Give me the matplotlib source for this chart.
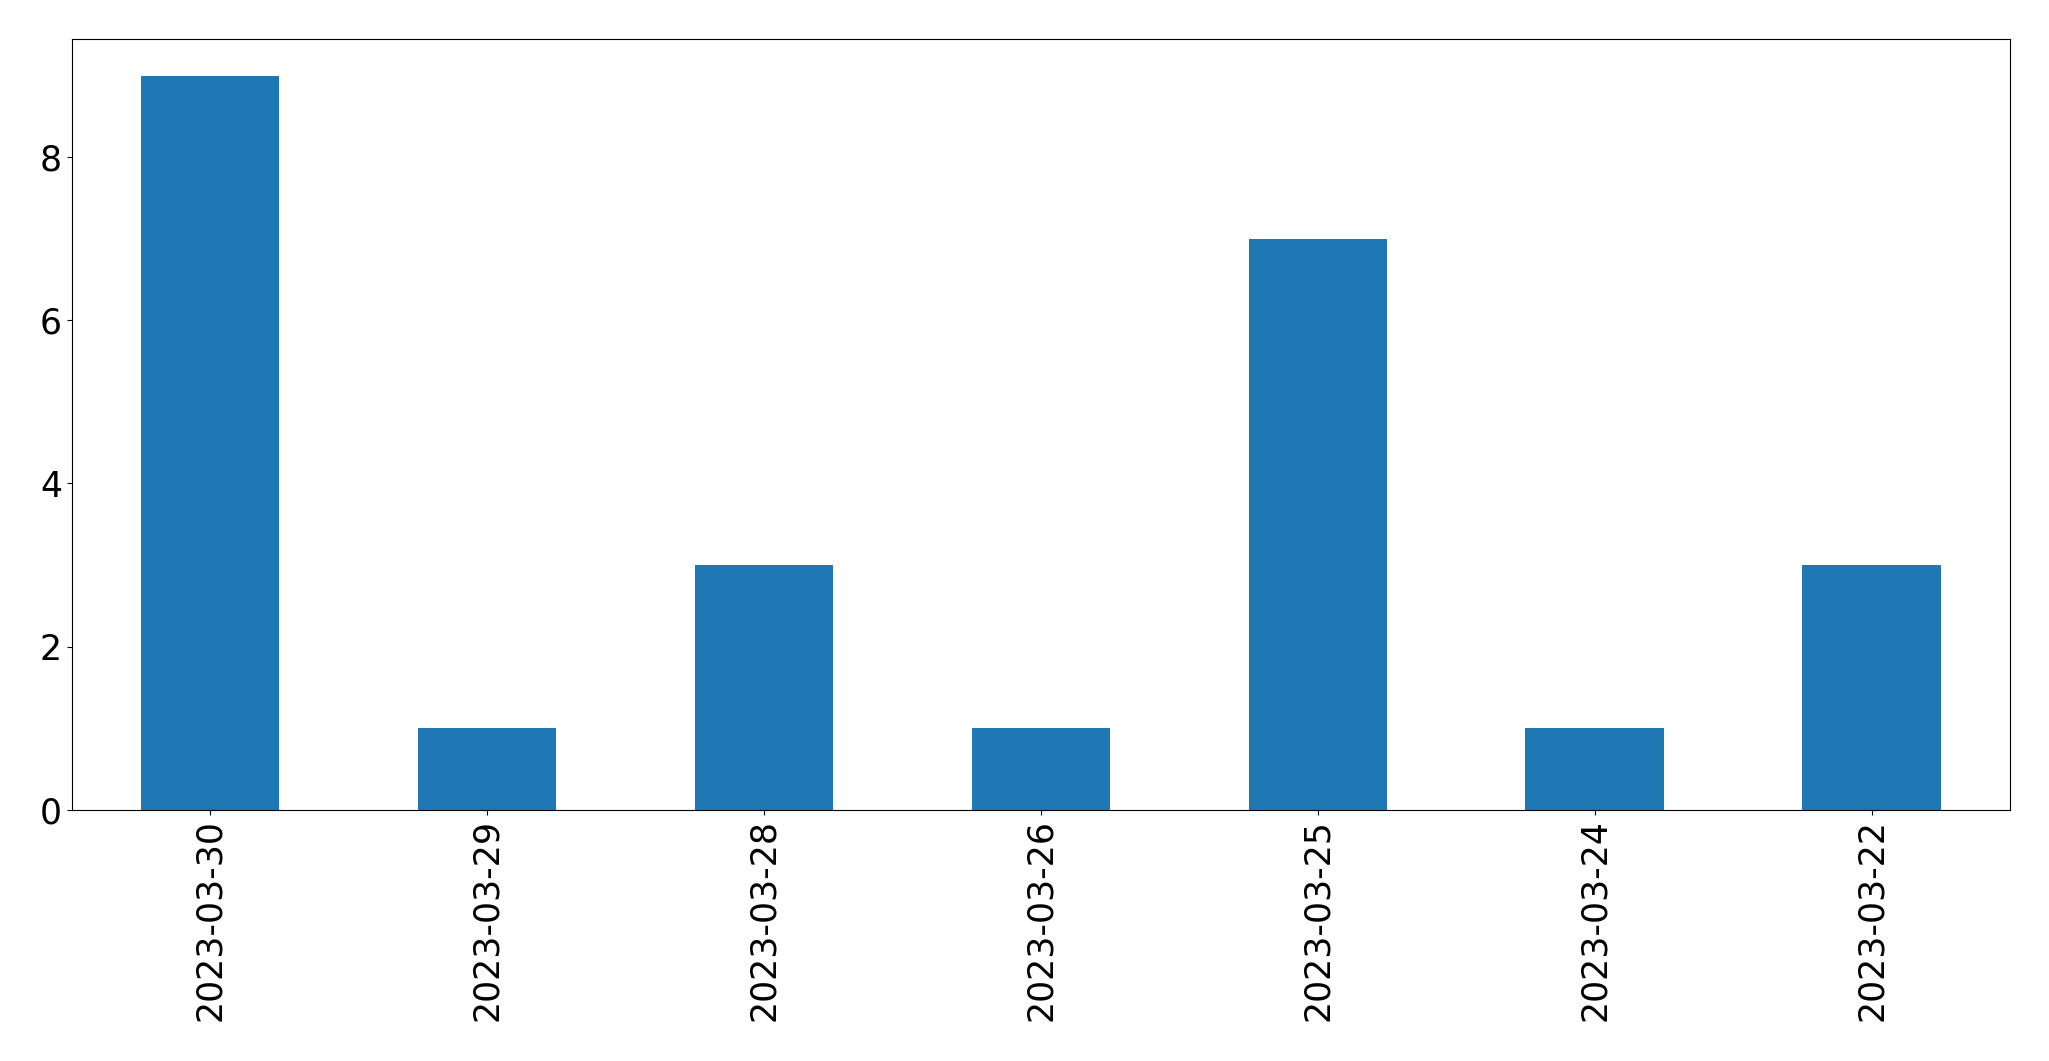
import matplotlib
matplotlib.use("Agg")
import matplotlib.pyplot as plt
import pandas as pd

dates = ["2023-03-30", "2023-03-29", "2023-03-28", "2023-03-26",
         "2023-03-25", "2023-03-24", "2023-03-22"]
counts = [9, 1, 3, 1, 7, 1, 3]

s = pd.Series(counts, index=dates)

fig, ax = plt.subplots(figsize=(20.49, 10.61), dpi=100)
s.plot(kind="bar", ax=ax, color="#1f77b4")
ax.tick_params(axis="both", labelsize=25)
plt.subplots_adjust(left=0.035, right=0.981, top=0.963, bottom=0.237)
plt.savefig("out.png")
